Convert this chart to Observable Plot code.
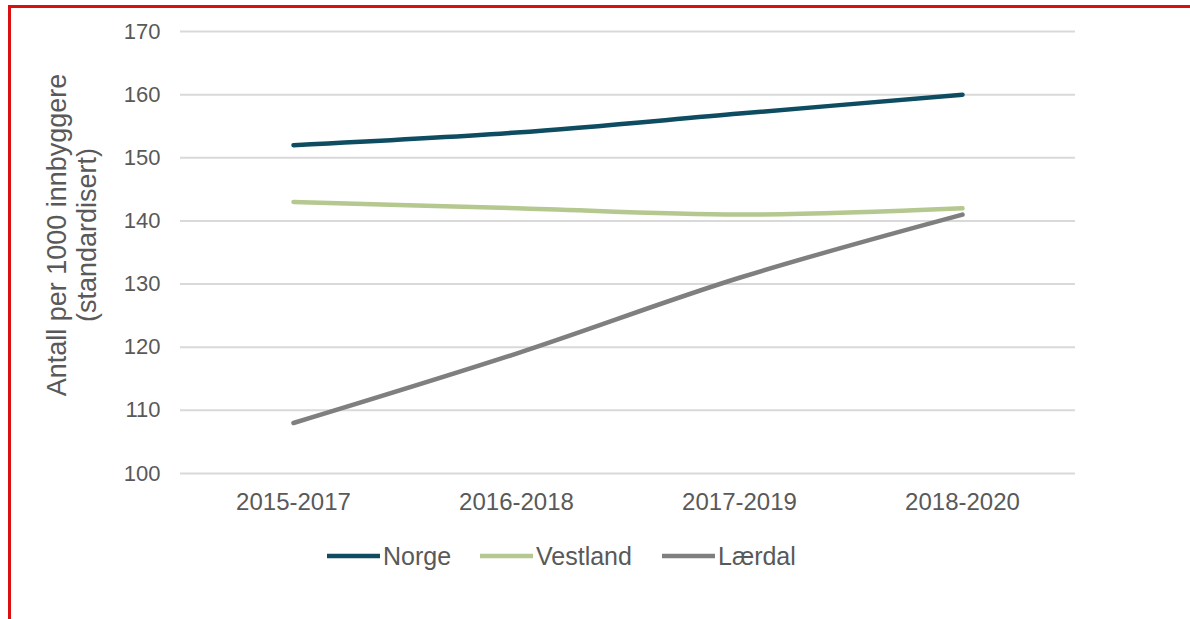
<!DOCTYPE html>
<html>
<head>
<meta charset="utf-8">
<script src="https://cdn.jsdelivr.net/npm/d3@7"></script>
<script src="https://cdn.jsdelivr.net/npm/@observablehq/plot@0.6"></script>
<style>
  html, body { margin: 0; padding: 0; background: #fff; }
  body { width: 1190px; height: 619px; position: relative; overflow: hidden; font-family: "Liberation Sans", Arial, sans-serif; }
  #frameTop { position: absolute; left: 8px; top: 5px; width: 1182px; height: 3px; background: #d9100f; }
  #frameLeft { position: absolute; left: 8px; top: 5px; width: 3px; height: 614px; background: #d9100f; }
  #chart { position: absolute; left: 0; top: 0; }
  #ylabel { position: absolute; left: 72px; top: 235px; transform: translate(-50%, -50%) rotate(-90deg); text-align: center; font-size: 27px; line-height: 30px; color: #595959; white-space: nowrap; }
  #legend { position: absolute; top: 541px; left: 0; font-size: 25px; color: #595959; }
  .item { position: absolute; display: flex; align-items: center; white-space: nowrap; }
  .item svg { margin-right: 3px; }
</style>
</head>
<body>
<div id="frameTop"></div>
<div id="frameLeft"></div>
<div id="chart"></div>
<div id="ylabel">Antall per 1000 innbyggere<br>(standardisert)</div>
<div id="legend"></div>
<script>
const periods = ["2015-2017", "2016-2018", "2017-2019", "2018-2020"];
const seriesNames = ["Norge", "Vestland", "Lærdal"];
const norge = [152, 154, 157, 160];
const vestland = [143, 142, 141, 142];
const laerdal = [108, 119, 131, 141];
const colors = ["#0e4c61", "#b4c890", "#7f7f7f"];
const yTicks = [100, 110, 120, 130, 140, 150, 160, 170];

const values = [norge, vestland, laerdal];
const data = [];
seriesNames.forEach((s, i) => periods.forEach((p, j) => data.push({series: s, period: p, value: values[i][j]})));

const plot = Plot.plot({
  width: 1190,
  height: 530,
  marginTop: 31,
  marginBottom: 57,
  marginLeft: 180,
  marginRight: 115,
  style: {fontFamily: '"Liberation Sans", Arial, sans-serif', fontSize: "22px", color: "#595959", background: "transparent"},
  x: {type: "point", domain: periods, padding: 0.5, label: null, tickSize: 0, tickPadding: 19},
  y: {domain: [100, 170], ticks: yTicks, label: null, tickSize: 0, tickPadding: 20},
  color: {domain: seriesNames, range: colors},
  marks: [
    Plot.gridY(yTicks, {stroke: "#d9d9d9", strokeOpacity: 1, strokeWidth: 2}),
    Plot.axisX({tickSize: 0, tickPadding: 19, fontSize: 24, label: null}),
    Plot.axisY(yTicks, {tickSize: 0, tickPadding: 20, fontSize: 22, label: null}),
    Plot.line(data, {x: "period", y: "value", z: "series", stroke: "series", strokeWidth: 4.5, curve: "catmull-rom"})
  ]
});
document.getElementById("chart").appendChild(plot);

const legendPos = [327, 480, 662];
const legend = document.getElementById("legend");
seriesNames.forEach((s, i) => {
  const item = document.createElement("div");
  item.className = "item";
  item.style.left = legendPos[i] + "px";
  item.innerHTML = `<svg width="53" height="30"><line x1="0" x2="53" y1="15" y2="15" stroke="${colors[i]}" stroke-width="4.5"/></svg><span>${s}</span>`;
  legend.appendChild(item);
});
</script>
</body>
</html>
